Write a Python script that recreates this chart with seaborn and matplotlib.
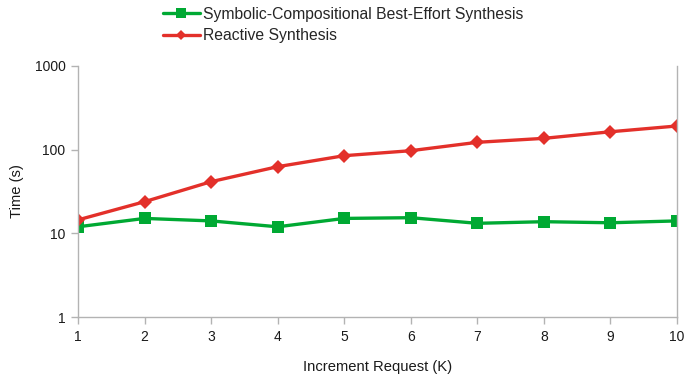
import matplotlib
matplotlib.use("Agg")
import matplotlib.pyplot as plt
import matplotlib.ticker as mticker
import seaborn as sns
import pandas as pd

# Increment request sizes (K)
increments = [1, 2, 3, 4, 5, 6, 7, 8, 9, 10]
# Synthesis times in seconds
best_effort_times = [12.0, 15.1, 14.1, 12.0, 15.1, 15.4, 13.2, 13.8, 13.4, 14.1]
reactive_times = [14.5, 23.9, 41.4, 62.5, 84.5, 96.9, 122, 136, 163, 191]
series_names = ["Symbolic-Compositional Best-Effort Synthesis", "Reactive Synthesis"]
y_ticks = [1, 10, 100, 1000]

sns.set_theme(style="white")
plt.rcParams["font.family"] = ["Liberation Sans", "DejaVu Sans"]

green = "#00a933"
red = "#e3302a"
axis_gray = "#b3b3b3"

df = pd.DataFrame({
    "Increment Request (K)": increments * 2,
    "Time (s)": best_effort_times + reactive_times,
    "series": [series_names[0]] * len(increments) + [series_names[1]] * len(increments),
})

fig = plt.figure(figsize=(6.86, 3.79), dpi=100)
ax = fig.add_axes([0.1137, 0.1628, 0.8732, 0.6639])

sns.lineplot(data=df[df["series"] == series_names[0]], x="Increment Request (K)", y="Time (s)",
             color=green, marker="s", markersize=9, markeredgewidth=0, linewidth=2.4,
             label=series_names[0], ax=ax, legend=False)
sns.lineplot(data=df[df["series"] == series_names[1]], x="Increment Request (K)", y="Time (s)",
             color=red, marker="D", markersize=7, markeredgewidth=0, linewidth=2.4,
             label=series_names[1], ax=ax, legend=False)

ax.set_yscale("log")
ax.set_ylim(1, 1000)
ax.set_xlim(1, 10)
ax.set_yticks(y_ticks)
ax.yaxis.set_major_formatter(mticker.FuncFormatter(lambda v, p: f"{int(v)}"))
ax.yaxis.set_minor_locator(mticker.NullLocator())
ax.set_xticks(increments)

for side in ["left", "bottom", "right"]:
    ax.spines[side].set_visible(True)
    ax.spines[side].set_color(axis_gray)
    ax.spines[side].set_linewidth(1.0)
ax.spines["top"].set_visible(False)

ax.tick_params(axis="both", which="major", length=5, width=1, color=axis_gray,
               labelsize=10, labelcolor="#1a1a1a", pad=4)
ax.tick_params(axis="y", left=True, right=False)
ax.tick_params(axis="x", bottom=True)

ax.set_xlabel("Increment Request (K)", fontsize=10.6, color="#1a1a1a", labelpad=12)
ax.set_ylabel("Time (s)", fontsize=10.6, color="#1a1a1a", labelpad=8)

handles, labels = ax.get_legend_handles_labels()
fig.legend(handles, labels, loc="upper left", bbox_to_anchor=(0.2376, 0.982),
           frameon=False, fontsize=11.3, handlelength=2.35, handletextpad=0.2,
           labelspacing=0.4, markerscale=0.8, borderpad=0, borderaxespad=0)

fig.savefig("out.png", dpi=100)
